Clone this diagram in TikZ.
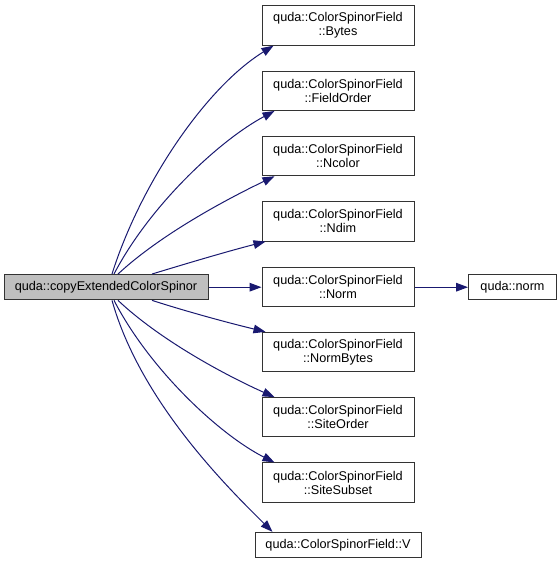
\documentclass[tikz,border=0pt]{standalone}
\usepackage{fontspec}
\setmainfont{Liberation Sans}
\usetikzlibrary{arrows.meta}
\definecolor{edgeblue}{RGB}{25,25,112}
\definecolor{srcgray}{RGB}{191,191,191}

\begin{document}
\begin{tikzpicture}[x=0.75pt,y=-0.75pt,
  every node/.style={font=\fontsize{9.5}{10.5}\selectfont,align=center,inner sep=0pt},
  fieldbox/.style={draw=black!80,line width=0.75pt,minimum width=114pt,minimum height=29.5pt},
  onebox/.style={draw=black!80,line width=0.75pt,minimum height=19pt},
  calledge/.style={draw=edgeblue,line width=0.75pt,-{Triangle[length=9pt,width=6.5pt]}}]
  \useasboundingbox (0,0) rectangle (560,561);

  \node[onebox,fill=srcgray,minimum width=153pt] (src) at (106,287.2) {quda::copyExtendedColorSpinor};

  \node[fieldbox] (bytes) at (338,25.5) {quda::ColorSpinorField\\::Bytes};
  \node[fieldbox] (fieldorder) at (338,90.8) {quda::ColorSpinorField\\::FieldOrder};
  \node[fieldbox] (ncolor) at (338,156.1) {quda::ColorSpinorField\\::Ncolor};
  \node[fieldbox] (ndim) at (338,221.4) {quda::ColorSpinorField\\::Ndim};
  \node[fieldbox] (normfield) at (338,287.2) {quda::ColorSpinorField\\::Norm};
  \node[fieldbox] (normbytes) at (338,352) {quda::ColorSpinorField\\::NormBytes};
  \node[fieldbox] (siteorder) at (338,417.3) {quda::ColorSpinorField\\::SiteOrder};
  \node[fieldbox] (sitesubset) at (338,482.6) {quda::ColorSpinorField\\::SiteSubset};
  \node[onebox,minimum width=124.5pt] (vfield) at (338,545) {quda::ColorSpinorField::V};
  \node[onebox,minimum width=66pt] (qnorm) at (512.5,287.2) {quda::norm};

  \draw[calledge] ([xshift=4.5pt]src.north) .. controls (140,185) and (205,88) .. ([xshift=9pt]bytes.south west);
  \draw[calledge] ([xshift=6pt]src.north) .. controls (150,205) and (220,140) .. ([xshift=9.75pt]fieldorder.south west);
  \draw[calledge] ([xshift=9pt]src.north) .. controls (160,235) and (225,200) .. ([xshift=9.75pt]ncolor.south west);
  \draw[calledge] ([xshift=34.5pt]src.north) .. controls (185,264) and (225,252) .. ([xshift=3pt]ndim.south west);
  \draw[calledge] (src.east) -- (normfield.west);
  \draw[calledge] ([xshift=34.5pt]src.south) .. controls (185,311) and (225,322) .. ([xshift=3pt]normbytes.north west);
  \draw[calledge] ([xshift=9pt]src.south) .. controls (160,340) and (225,375) .. ([xshift=9.75pt]siteorder.north west);
  \draw[calledge] ([xshift=6pt]src.south) .. controls (150,370) and (220,435) .. ([xshift=9.75pt]sitesubset.north west);
  \draw[calledge] ([xshift=4.5pt]src.south) .. controls (140,400) and (225,485) .. ([xshift=13.5pt]vfield.north west);
  \draw[calledge] (normfield.east) -- (qnorm.west);
\end{tikzpicture}
\end{document}
